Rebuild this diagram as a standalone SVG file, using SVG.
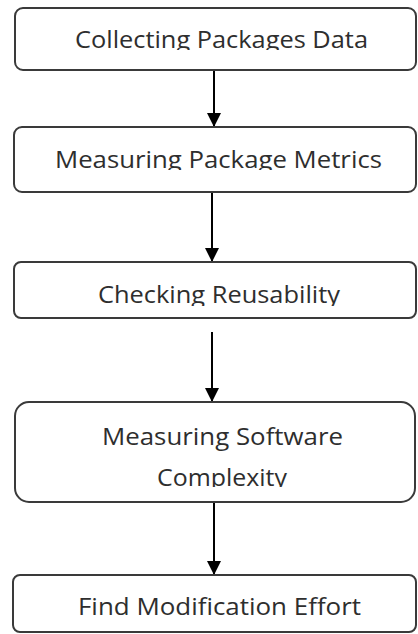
<svg xmlns="http://www.w3.org/2000/svg" width="418" height="634" viewBox="0 0 418 634">
<style>
.box{fill:#fff;stroke:#3a3a3a;stroke-width:2}
.lbl{font-family:"Open Sans","Liberation Sans",sans-serif;font-size:23px;fill:#2e2e2e}
.conn{stroke:#000;stroke-width:2;fill:none}
</style>
<defs>
<marker id="ah" markerUnits="userSpaceOnUse" markerWidth="14" markerHeight="15" refX="14" refY="7" orient="auto">
<path d="M0,0 L14,7 L0,14 Z" fill="#000"/>
</marker>
<clipPath id="c1"><rect x="0" y="0" width="418" height="50"/></clipPath>
<clipPath id="c2"><rect x="0" y="120" width="418" height="50"/></clipPath>
<clipPath id="c3"><rect x="0" y="260" width="418" height="46"/></clipPath>
<clipPath id="c4"><rect x="0" y="400" width="418" height="87"/></clipPath>
<clipPath id="c5"><rect x="0" y="570" width="418" height="48"/></clipPath>
</defs>
<rect width="418" height="634" fill="#fff"/>
<g id="connectors">
<line class="conn" x1="214" y1="70" x2="214" y2="127" marker-end="url(#ah)"/>
<line class="conn" x1="212" y1="192" x2="212" y2="262" marker-end="url(#ah)"/>
<line class="conn" x1="212" y1="332" x2="212" y2="402" marker-end="url(#ah)"/>
<line class="conn" x1="214" y1="503" x2="214" y2="575" marker-end="url(#ah)"/>
</g>
<g id="n1">
<rect class="box" x="15" y="8" width="401" height="62" rx="8"/>
<text class="lbl" x="75" y="48" textLength="293" lengthAdjust="spacingAndGlyphs" clip-path="url(#c1)">Collecting Packages Data</text>
</g>
<g id="n2">
<rect class="box" x="14" y="127" width="402" height="65" rx="8"/>
<text class="lbl" x="55" y="168" textLength="327" lengthAdjust="spacingAndGlyphs" clip-path="url(#c2)">Measuring Package Metrics</text>
</g>
<g id="n3">
<rect class="box" x="14" y="262" width="402" height="56" rx="7"/>
<text class="lbl" x="98" y="303" textLength="242" lengthAdjust="spacingAndGlyphs" clip-path="url(#c3)">Checking Reusability</text>
</g>
<g id="n4">
<rect class="box" x="15" y="402" width="400" height="100" rx="14"/>
<g clip-path="url(#c4)">
<text class="lbl" x="102" y="445" textLength="241" lengthAdjust="spacingAndGlyphs">Measuring Software</text>
<text class="lbl" x="157" y="486" textLength="130" lengthAdjust="spacingAndGlyphs">Complexity</text>
</g>
</g>
<g id="n5">
<rect class="box" x="13" y="575" width="403" height="57" rx="7"/>
<text class="lbl" x="78" y="615" textLength="283" lengthAdjust="spacingAndGlyphs" clip-path="url(#c5)">Find Modification Effort</text>
</g>
</svg>
